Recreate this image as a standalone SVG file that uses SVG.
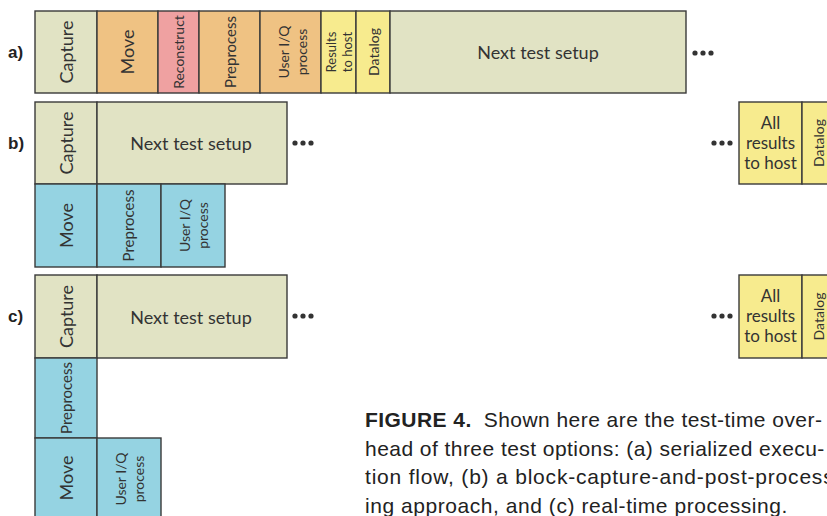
<svg xmlns="http://www.w3.org/2000/svg" width="827" height="516" viewBox="0 0 827 516">
  <style>
    .box { stroke: #3a3a3a; stroke-width: 1.4; }
    .olive { fill: #e1e3c4; }
    .orange { fill: #efc283; }
    .pink { fill: #efa1a1; }
    .yellow { fill: #f7eb8e; }
    .blue { fill: #95d3e2; }
    .lbl { font-family: Lato, "Open Sans", sans-serif; fill: #333; text-anchor: middle; dominant-baseline: central; }
    .row { font-family: "Liberation Sans", Arial, sans-serif; font-weight: bold; font-size: 17px; fill: #222; }
    .cap { font-family: "Liberation Sans", Arial, sans-serif; font-size: 21px; fill: #222; letter-spacing: 0.45px; }
    .dot { fill: #333; }
  </style>

  <!-- row labels -->
  <text class="row" x="8" y="58">a)</text>
  <text class="row" x="8" y="149">b)</text>
  <text class="row" x="8" y="322">c)</text>

  <!-- (a) serialized execution -->
  <g id="a-capture"><rect class="box olive" x="35" y="11" width="62" height="82"/><text class="lbl" font-size="18" transform="translate(66,52) rotate(-90)">Capture</text></g>
  <g id="a-move"><rect class="box orange" x="97" y="11" width="61" height="82"/><text class="lbl" font-size="18" transform="translate(127,52) rotate(-90)">Move</text></g>
  <g id="a-reconstruct"><rect class="box pink" x="158" y="11" width="41" height="82"/><text class="lbl" font-size="14" transform="translate(178.5,52) rotate(-90)">Reconstruct</text></g>
  <g id="a-preprocess"><rect class="box orange" x="199" y="11" width="61" height="82"/><text class="lbl" font-size="15" transform="translate(229.5,52) rotate(-90)">Preprocess</text></g>
  <g id="a-useriq"><rect class="box orange" x="260" y="11" width="61" height="82"/><text class="lbl" font-size="14" transform="translate(283,52) rotate(-90)">User I/Q</text><text class="lbl" font-size="14" transform="translate(301,52) rotate(-90)">process</text></g>
  <g id="a-results"><rect class="box yellow" x="321" y="11" width="35" height="82"/><text class="lbl" font-size="13" transform="translate(331,52) rotate(-90)">Results</text><text class="lbl" font-size="13" transform="translate(347,52) rotate(-90)">to host</text></g>
  <g id="a-datalog"><rect class="box yellow" x="356" y="11" width="34" height="82"/><text class="lbl" font-size="14" transform="translate(373,52) rotate(-90)">Datalog</text></g>
  <g id="a-next"><rect class="box olive" x="390" y="11" width="296" height="82"/><text class="lbl" font-size="18" x="538" y="52">Next test setup</text></g>

  <!-- (b) block capture and post-process -->
  <g id="b-capture"><rect class="box olive" x="35" y="102" width="62" height="82"/><text class="lbl" font-size="18" transform="translate(66,143) rotate(-90)">Capture</text></g>
  <g id="b-next"><rect class="box olive" x="97" y="102" width="190" height="82"/><text class="lbl" font-size="18" x="191" y="143">Next test setup</text></g>
  <g id="b-move"><rect class="box blue" x="35" y="184" width="62" height="83"/><text class="lbl" font-size="18" transform="translate(66,225.5) rotate(-90)">Move</text></g>
  <g id="b-preprocess"><rect class="box blue" x="97" y="184" width="64" height="83"/><text class="lbl" font-size="15" transform="translate(128,225.5) rotate(-90)">Preprocess</text></g>
  <g id="b-useriq"><rect class="box blue" x="161" y="184" width="64" height="83"/><text class="lbl" font-size="14" transform="translate(184,225.5) rotate(-90)">User I/Q</text><text class="lbl" font-size="14" transform="translate(202,225.5) rotate(-90)">process</text></g>
  <g id="b-results"><rect class="box yellow" x="739" y="102" width="63" height="82"/><text class="lbl" font-size="17" x="770.5" y="122">All</text><text class="lbl" font-size="17" x="770.5" y="142">results</text><text class="lbl" font-size="17" x="770.5" y="162">to host</text></g>
  <g id="b-datalog"><rect class="box yellow" x="802" y="102" width="40" height="82"/><text class="lbl" font-size="14" transform="translate(818,143) rotate(-90)">Datalog</text></g>

  <!-- (c) real-time processing -->
  <g id="c-capture"><rect class="box olive" x="35" y="275" width="62" height="83"/><text class="lbl" font-size="18" transform="translate(66,316.5) rotate(-90)">Capture</text></g>
  <g id="c-next"><rect class="box olive" x="97" y="275" width="190" height="83"/><text class="lbl" font-size="18" x="191" y="316.5">Next test setup</text></g>
  <g id="c-preprocess"><rect class="box blue" x="35" y="358" width="62" height="80"/><text class="lbl" font-size="15" transform="translate(66,398) rotate(-90)">Preprocess</text></g>
  <g id="c-move"><rect class="box blue" x="35" y="438" width="62" height="84"/><text class="lbl" font-size="18" transform="translate(66,478) rotate(-90)">Move</text></g>
  <g id="c-useriq"><rect class="box blue" x="97" y="438" width="64" height="84"/><text class="lbl" font-size="14" transform="translate(120,479) rotate(-90)">User I/Q</text><text class="lbl" font-size="14" transform="translate(138,479) rotate(-90)">process</text></g>
  <g id="c-results"><rect class="box yellow" x="739" y="275" width="63" height="83"/><text class="lbl" font-size="17" x="770.5" y="295">All</text><text class="lbl" font-size="17" x="770.5" y="315">results</text><text class="lbl" font-size="17" x="770.5" y="335">to host</text></g>
  <g id="c-datalog"><rect class="box yellow" x="802" y="275" width="40" height="83"/><text class="lbl" font-size="14" transform="translate(818,316.5) rotate(-90)">Datalog</text></g>

  <!-- continuation ellipses -->
  <g id="connectors">
    <circle class="dot" cx="695" cy="53" r="2.6"/><circle class="dot" cx="703" cy="53" r="2.6"/><circle class="dot" cx="711" cy="53" r="2.6"/>
    <circle class="dot" cx="295" cy="143" r="2.6"/><circle class="dot" cx="303" cy="143" r="2.6"/><circle class="dot" cx="311" cy="143" r="2.6"/>
    <circle class="dot" cx="714" cy="143" r="2.6"/><circle class="dot" cx="722" cy="143" r="2.6"/><circle class="dot" cx="730" cy="143" r="2.6"/>
    <circle class="dot" cx="295" cy="316" r="2.6"/><circle class="dot" cx="303" cy="316" r="2.6"/><circle class="dot" cx="311" cy="316" r="2.6"/>
    <circle class="dot" cx="714" cy="316" r="2.6"/><circle class="dot" cx="722" cy="316" r="2.6"/><circle class="dot" cx="730" cy="316" r="2.6"/>
  </g>

  <!-- caption -->
  <g id="caption" class="cap">
    <text x="365" y="427"><tspan font-weight="bold">FIGURE 4.</tspan><tspan dx="12">Shown here are the test-time over-</tspan></text>
    <text x="365" y="456">head of three test options: (a) serialized execu-</text>
    <text x="365" y="484" letter-spacing="0.8">tion flow, (b) a block-capture-and-post-process-</text>
    <text x="365" y="513" letter-spacing="0.55">ing approach, and (c) real-time processing.</text>
  </g>
</svg>
